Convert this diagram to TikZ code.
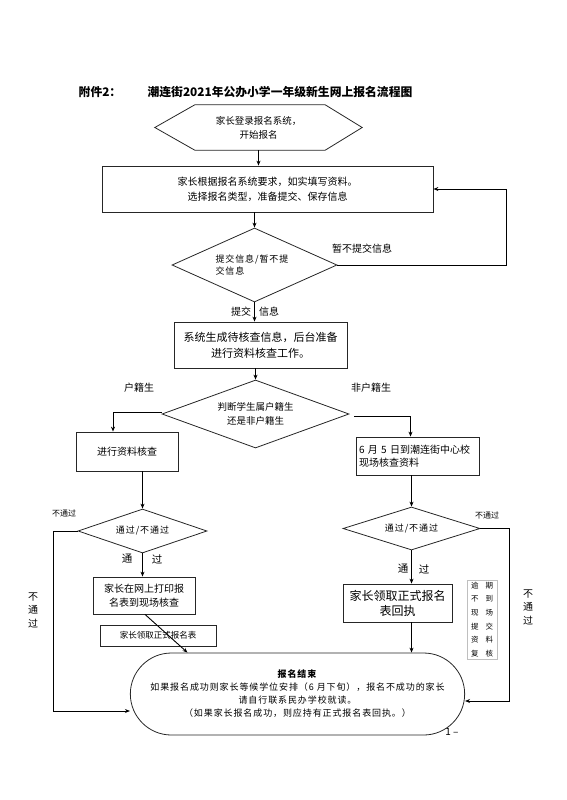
\documentclass[tikz,border=0pt]{standalone}
\usepackage{fontspec}
\setmainfont{Noto Sans CJK SC}
\newfontfamily\cjkwide[LetterSpace=10]{Noto Sans CJK SC}
\usetikzlibrary{shapes.geometric, shapes.misc, arrows.meta}

\begin{document}
\begin{tikzpicture}[
    x=1pt, y=-1pt,
    box/.style={rectangle, draw=black!85, line width=0.8pt, inner sep=2pt, align=center},
    choice/.style={diamond, aspect=2.5, draw=black!85, line width=0.8pt, inner sep=0pt, align=center},
    lbl/.style={inner sep=0pt, font=\fontsize{10}{12}\selectfont},
    tiny/.style={inner sep=0pt, font=\fontsize{8}{10}\selectfont},
    arrow/.style={-{Stealth[length=5pt, width=4pt]}, line width=0.9pt}
]
\useasboundingbox (0,0) rectangle (566,800);

% Title
\node[font=\fontsize{11.8}{14}\selectfont\bfseries] (att) at (100,92) {附件2：};
\node[font=\fontsize{11.8}{14}\selectfont\bfseries] (title) at (280,92) {潮连街2021年公办小学一年级新生网上报名流程图};

% Main column
\node[minimum width=207pt, minimum height=45pt, inner sep=0pt, align=center, font=\fontsize{9.5}{14}\selectfont] (login) at (258.5,127.5) {家长登录报名系统，\\开始报名};
\draw[line width=0.8pt, draw=black!85] (login.west) -- ([xshift=40pt]login.north west) -- ([xshift=-37pt]login.north east) -- (login.east) -- ([xshift=-37pt]login.south east) -- ([xshift=40pt]login.south west) -- cycle;
\node[box, minimum width=331pt, minimum height=46pt, font=\fontsize{10}{15}\selectfont] (fill) at (267.5,189) {家长根据报名系统要求，如实填写资料。\\选择报名类型，准备提交、保存信息};
\node[choice, minimum width=165pt, minimum height=74pt, text width=78pt, align=left, font=\cjkwide\fontsize{9}{11.5}\selectfont] (submit) at (254.5,265) {提交信息/暂不提\\交信息};
\node[box, minimum width=173pt, minimum height=46pt, font=\fontsize{11}{16}\selectfont] (gen) at (260.5,345) {系统生成待核查信息，后台准备\\进行资料核查工作。};
\node[choice, minimum width=187pt, minimum height=68pt, font=\fontsize{9.5}{14}\selectfont] (judge) at (255.5,414) {判断学生属户籍生\\还是非户籍生};

% Left branch
\node[box, minimum width=102pt, minimum height=39pt, font=\fontsize{10}{12}\selectfont] (hj) at (127,451.5) {进行资料核查};
\node[choice, minimum width=129pt, minimum height=44pt, font=\cjkwide\fontsize{9}{11}\selectfont] (pass1) at (142.5,531) {通过/不通过};
\node[box, minimum width=102pt, minimum height=37pt, font=\fontsize{10}{14}\selectfont] (print) at (144,595.5) {家长在网上打印报\\名表到现场核查};
\node[box, minimum width=116pt, minimum height=21pt, font=\fontsize{8.5}{10}\selectfont] (form) at (158,635.5) {家长领取正式报名表};

% Right branch
\node[box, minimum width=123pt, minimum height=38pt, text width=117pt, align=left, font=\fontsize{10}{13}\selectfont] (fhj) at (417.5,456) {6 月 5 日到潮连街中心校\\现场核查资料};
\node[choice, minimum width=137pt, minimum height=43pt, font=\cjkwide\fontsize{9}{11}\selectfont] (pass2) at (411.5,528.5) {通过/不通过};
\node[box, minimum width=109pt, minimum height=38pt, font=\fontsize{12}{15}\selectfont] (receipt) at (397.5,603) {家长领取正式报名\\表回执};
\node[rectangle, draw=black!25, line width=0.8pt, minimum width=30pt, minimum height=79pt, inner sep=0pt, align=center, font=\fontsize{7.5}{13.6}\selectfont] (late) at (482,619.5) {逾\hspace{7pt}期\\不\hspace{7pt}到\\现\hspace{7pt}场\\提\hspace{7pt}交\\资\hspace{7pt}料\\复\hspace{7pt}核};

% End
\node[rounded rectangle, draw=black!85, line width=0.8pt, minimum width=341pt, minimum height=82pt, align=center, font=\cjkwide\fontsize{9}{13}\selectfont] (finish) at (297.5,694) {\textbf{报名结束}\\如果报名成功则家长等候学位安排（6 月下旬），报名不成功的家长\\请自行联系民办学校就读。\\（如果家长报名成功，则应持有正式报名表回执。）};
\node[inner sep=0pt, font=\fontsize{10}{12}\selectfont] (page) at (452,732) {1 –};

% Arrows
\draw [arrow] (login.south) -- (login.south |- fill.north);
\draw [arrow] (submit.north |- fill.south) -- (submit.north);
\draw [arrow] (submit.east) -| ([xshift=73pt]fill.east) -- (fill.east);
\draw [arrow] (submit.south) -- (submit.south |- gen.north);
\draw [arrow] (judge.north |- gen.south) -- (judge.north);
\draw [arrow] ([yshift=2pt]judge.west) -| ([xshift=-14pt]hj.north);
\draw [arrow, shorten <=5pt] ([yshift=-2pt]judge.east) -| ([xshift=-7pt]fhj.north);
\draw [arrow] (pass1.north |- hj.south) -- (pass1.north);
\draw [arrow] (pass1.west) -| ([xshift=-76pt, yshift=-17pt]finish.west) -- ([yshift=-17pt]finish.west);
\draw [arrow] (pass1.south) -- (pass1.south |- print.north);
\draw [arrow] ([xshift=1pt]print.south) -- ([xshift=-110pt]finish.north);
\draw [arrow] (pass2.north |- fhj.south) -- (pass2.north);
\draw [arrow] (pass2.east) -| ([xshift=44pt, yshift=-7pt]finish.east) -- ([yshift=-7pt]finish.east);
\draw [arrow] (pass2.south) -- (pass2.south |- receipt.north);
\draw [arrow] (pass2.south |- receipt.south) -- (pass2.south |- finish.north);

% Connector labels
\node[lbl] (nosub) at (362,249) {暂不提交信息};
\node[lbl] (sub1) at (241,312) {提交};
\node[lbl] (sub2) at (269,312) {信息};
\node[lbl] (lhj) at (139,388) {户籍生};
\node[lbl] (lfhj) at (371,388) {非户籍生};
\node[tiny] (fail1) at (64,513) {不通过};
\node[tiny] (fail2) at (487,515) {不通过};
\node[lbl, align=center, font=\fontsize{10}{13.5}\selectfont] (fail1v) at (33,610) {不\\通\\过};
\node[lbl, align=center, font=\fontsize{10}{13.5}\selectfont] (fail2v) at (528,607) {不\\通\\过};
\node[lbl, font=\fontsize{10.5}{12}\selectfont] (ok1a) at (127,559) {通};
\node[lbl, font=\fontsize{10.5}{12}\selectfont] (ok1b) at (157,559) {过};
\node[lbl, font=\fontsize{10.5}{12}\selectfont] (ok2a) at (403,569) {通};
\node[lbl, font=\fontsize{10.5}{12}\selectfont] (ok2b) at (424,569) {过};

\end{tikzpicture}
\end{document}
